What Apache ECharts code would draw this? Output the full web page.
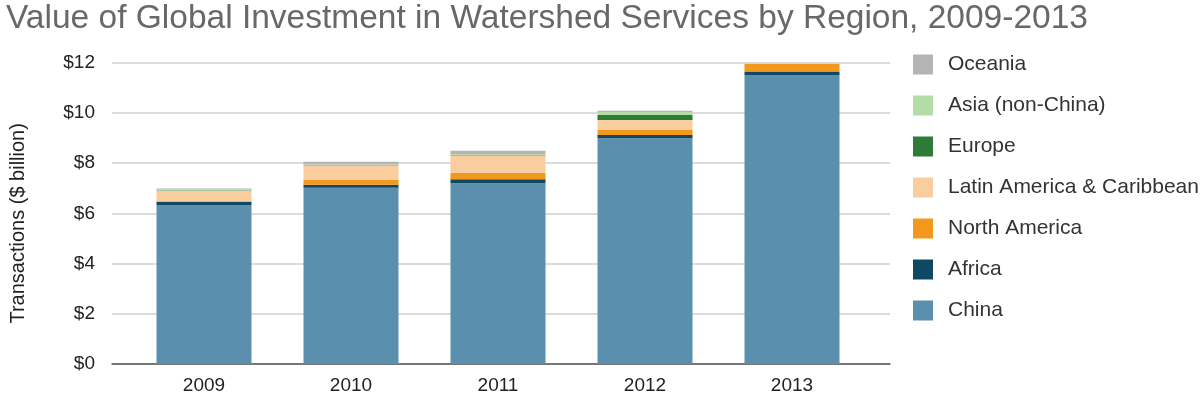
<!DOCTYPE html>
<html>
<head>
<meta charset="utf-8">
<script src="https://cdn.jsdelivr.net/npm/echarts@6/dist/echarts.min.js"></script>
<style>
  html, body { margin: 0; padding: 0; background: #fff; }
  #chart { width: 1200px; height: 396px; }
</style>
</head>
<body>
<div id="chart"></div>
<script>
// years on the x axis
var years = ['2009', '2010', '2011', '2012', '2013']

// values in $ billion
var china = [6.33, 7.02, 7.20, 8.99, 11.51]
var africa = [0.13, 0.12, 0.16, 0.13, 0.14]
var northAmerica = [0.02, 0.19, 0.26, 0.20, 0.30]
var latinAmerica = [0.41, 0.56, 0.67, 0.40, 0.02]
var europe = [0.02, 0.02, 0.02, 0.20, 0]
var asiaNonChina = [0.05, 0.04, 0.04, 0.12, 0]
var oceania = [0.03, 0.11, 0.14, 0.05, 0]

var regionNames = ['China', 'Africa', 'North America', 'Latin America & Caribbean', 'Europe', 'Asia (non-China)', 'Oceania']
var regionValues = [china, africa, northAmerica, latinAmerica, europe, asiaNonChina, oceania]
var regionColors = ['#5a8fae', '#0f4862', '#f2981d', '#f9cd9d', '#2e7b37', '#b3dca7', '#b4b4b4']

var font = 'Liberation Sans, Arial, sans-serif'

var series = []
for (var i = 0; i < regionNames.length; i++) {
	series.push({
		name: regionNames[i],
		type: 'bar',
		stack: 'total',
		xAxisIndex: 1,
		yAxisIndex: 1,
		barWidth: 95,
		itemStyle: { color: regionColors[i] },
		data: regionValues[i]
	})
}

var chart = echarts.init(document.getElementById('chart'))

var option = {
	animation: false,
	title: {
		text: 'Value of Global Investment in Watershed Services by Region, 2009-2013',
		left: 1,
		top: -3,
		textStyle: {
			color: '#686868',
			fontSize: 33.5,
			fontWeight: 'normal',
			fontFamily: font
		}
	},
	legend: {
		orient: 'vertical',
		left: 908,
		top: 49,
		itemWidth: 20,
		itemHeight: 20,
		itemGap: 20,
		icon: 'rect',
		data: regionNames.slice().reverse(),
		textStyle: { color: '#333', fontSize: 21, fontFamily: font, padding: [0, 0, 0, 10] }
	},
	// grid 0 only carries the gridlines (they run wider than the bars)
	grid: [
		{ left: 105, right: 310, top: 62.7, bottom: 32 },
		{ left: 130.5, right: 334.5, top: 62.7, bottom: 32 }
	],
	xAxis: [{
		gridIndex: 0,
		type: 'category',
		data: years,
		axisLine: { lineStyle: { color: '#555', width: 1.5 } },
		axisTick: { show: false },
		axisLabel: { show: false }
	}, {
		gridIndex: 1,
		type: 'category',
		data: years,
		axisLine: { show: false },
		axisTick: { show: false },
		axisLabel: { color: '#222', fontSize: 19, fontFamily: font, margin: 12 }
	}],
	yAxis: [{
		gridIndex: 0,
		type: 'value',
		min: 0,
		max: 12,
		interval: 2,
		name: 'Transactions ($ billion)',
		nameLocation: 'middle',
		nameGap: 84,
		nameTextStyle: { color: '#222', fontSize: 20, fontFamily: font, padding: [0, 20, 0, 0] },
		axisLine: { show: false },
		axisTick: { show: false },
		axisLabel: {
			color: '#222',
			fontSize: 19,
			fontFamily: font,
			margin: 17,
			formatter: function (v) { return '$' + v }
		},
		splitLine: { lineStyle: { color: '#cfcfcf', width: 1.5 } }
	}, {
		gridIndex: 1,
		type: 'value',
		min: 0,
		max: 12,
		interval: 2,
		show: false,
		splitLine: { show: false }
	}],
	series: series
}

chart.setOption(option)
</script>
</body>
</html>
